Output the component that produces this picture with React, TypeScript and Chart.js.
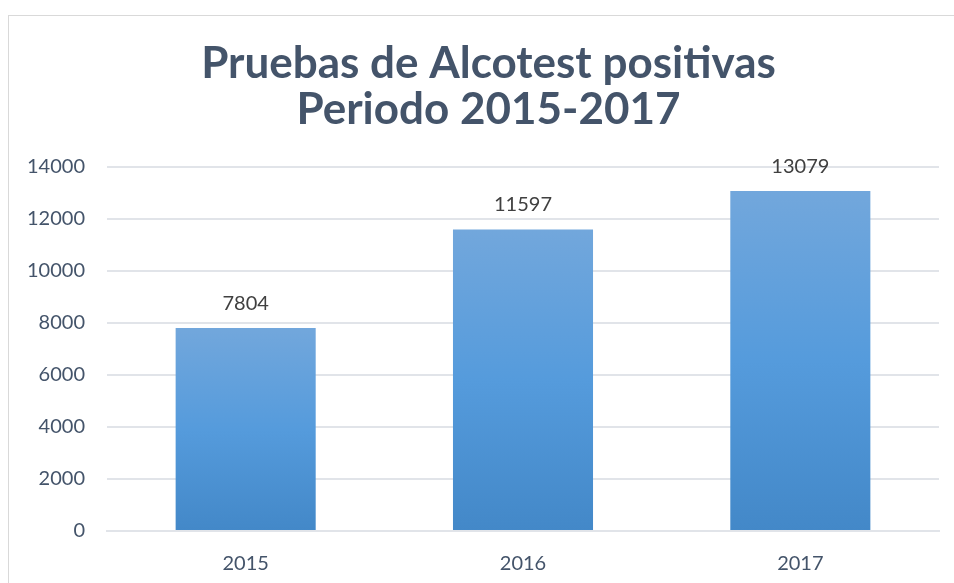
import React, { useEffect, useRef } from "react";
import { Chart, registerables } from "chart.js";

Chart.register(...registerables);

const categories = ["2015", "2016", "2017"];
const values = [7804, 11597, 13079];
const titleLines = ["Pruebas de Alcotest positivas", "Periodo 2015-2017"];
const yMax = 14000;
const yStep = 2000;

const dataLabelPlugin = {
  id: "dataLabels",
  afterDatasetsDraw(chart: any) {
    const ctx = chart.ctx;
    const meta = chart.getDatasetMeta(0);
    ctx.save();
    ctx.font = "20px Lato";
    ctx.fillStyle = "#404040";
    ctx.textAlign = "center";
    ctx.textBaseline = "alphabetic";
    meta.data.forEach((bar: any, i: number) => {
      ctx.fillText(String(values[i]), bar.x, bar.y - 18);
    });
    ctx.restore();
  },
};

const titleShiftPlugin = {
  id: "titleShift",
  afterLayout(chart: any) {
    const t = chart.titleBlock;
    if (t) {
      t.left += 15;
      t.right += 15;
    }
  },
};

export default function App() {
  const ref = useRef<HTMLCanvasElement>(null);
  useEffect(() => {
    const chart = new Chart(ref.current!, {
      type: "bar",
      data: {
        labels: categories,
        datasets: [
          {
            data: values,
            categoryPercentage: 1,
            barPercentage: 0.505,
            backgroundColor: (c: any) => {
              const ch = c.chart;
              const ys = ch.scales?.y;
              if (!ys || c.raw === undefined) return "#559BDB";
              const top = ys.getPixelForValue(c.raw);
              const bottom = ys.getPixelForValue(0);
              if (!isFinite(top) || !isFinite(bottom) || top === bottom) return "#559BDB";
              const g = ch.ctx.createLinearGradient(0, top, 0, bottom);
              g.addColorStop(0, "#72A7DC");
              g.addColorStop(0.5, "#559BDC");
              g.addColorStop(1, "#4388C8");
              return g;
            },
          },
        ],
      },
      options: {
        animation: false,
        responsive: true,
        maintainAspectRatio: false,
        layout: { padding: { left: 0, right: 15, top: 0, bottom: 0 } },
        plugins: {
          legend: { display: false },
          tooltip: { enabled: false },
          title: {
            display: true,
            text: titleLines,
            color: "#44546A",
            font: { family: "Lato", size: 44, weight: "bold", lineHeight: 1.045 },
            padding: { top: 26, bottom: 34 },
          },
        },
        scales: {
          x: {
            grid: { display: false },
            border: { display: true, color: "#E1E4E9", width: 2 },
            ticks: { color: "#44546A", font: { family: "Lato", size: 20 }, padding: 13 },
            afterFit: (s: any) => {
              s.height = 52;
            },
          },
          y: {
            min: 0,
            max: yMax,
            ticks: {
              stepSize: yStep,
              color: "#44546A",
              font: { family: "Lato", size: 20 },
              padding: 22,
              callback: (v: any) => String(v),
            },
            grid: { color: "#E1E4E9", lineWidth: 2, drawTicks: false },
            border: { display: false },
            afterFit: (s: any) => {
              s.width = 99;
            },
          },
        },
      },
      plugins: [dataLabelPlugin, titleShiftPlugin],
    });
    return () => chart.destroy();
  }, []);
  return (
    <div style={{ position: "fixed", inset: 0, overflow: "hidden", background: "#fff" }}>
      <div
        style={{
          position: "absolute",
          left: 8,
          top: 15,
          width: 1000,
          height: 620,
          border: "1px solid #D9D9D9",
          boxSizing: "border-box",
        }}
      >
        <div style={{ position: "absolute", left: -1, top: -1, width: 946, height: 568 }}>
          <canvas ref={ref} />
        </div>
      </div>
    </div>
  );
}
